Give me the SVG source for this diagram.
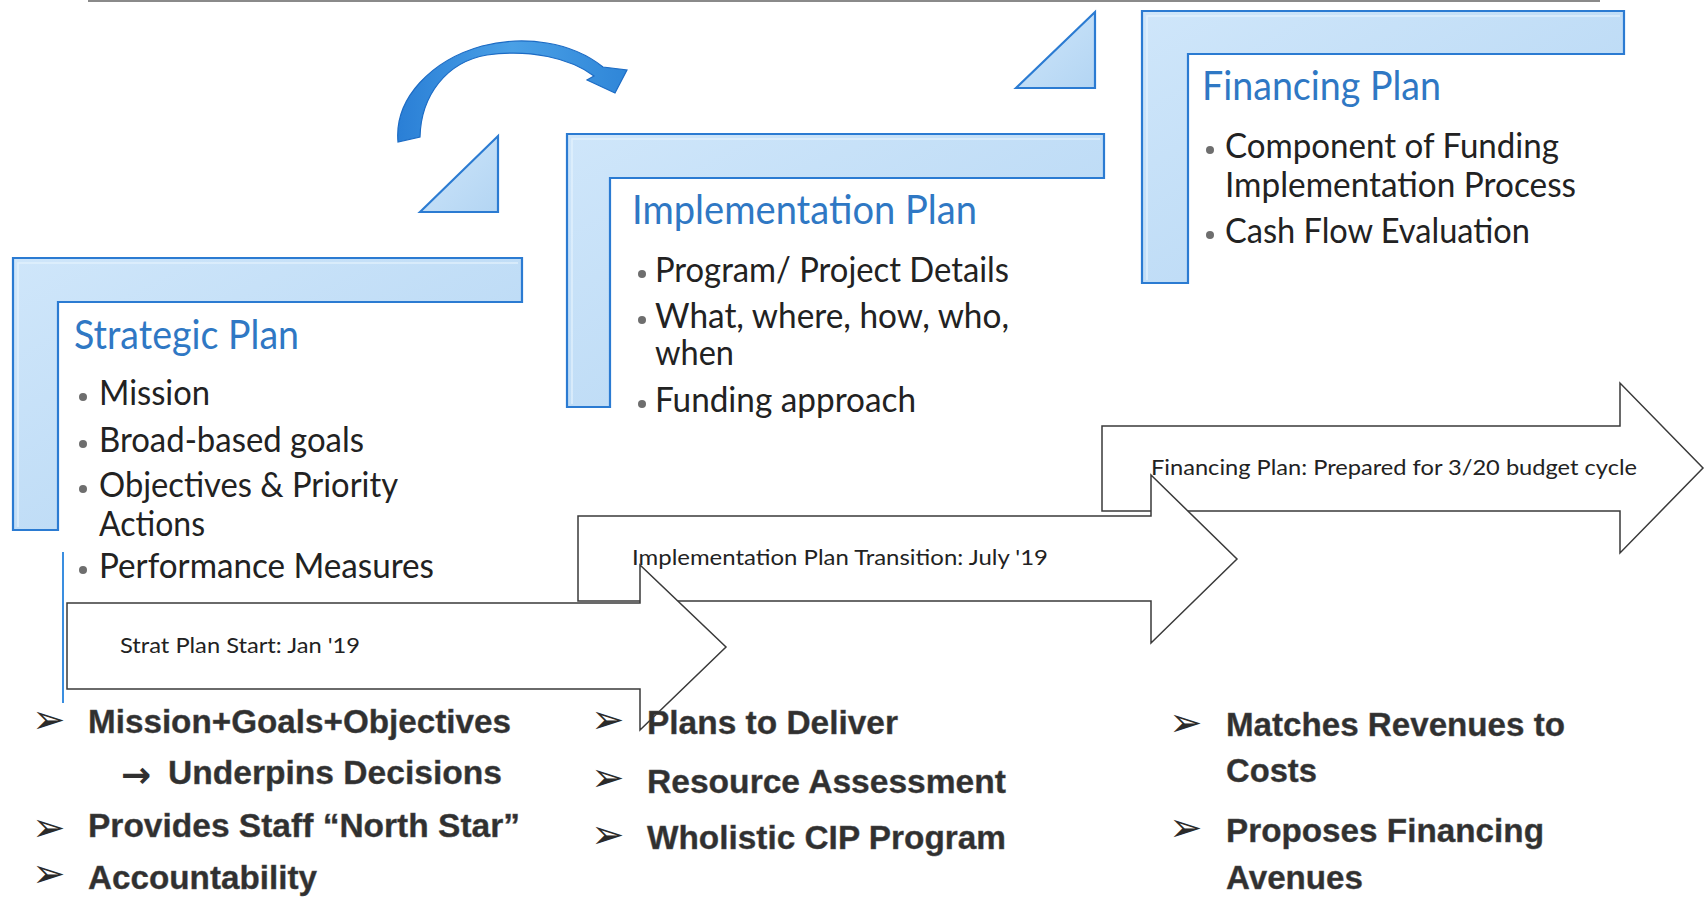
<svg xmlns="http://www.w3.org/2000/svg" width="1705" height="898" viewBox="0 0 1705 898">
<defs>
<linearGradient id="lfill" x1="0" y1="0" x2="1" y2="1">
<stop offset="0" stop-color="#cfe6fa"/>
<stop offset="1" stop-color="#b3d5f3"/>
</linearGradient>
<linearGradient id="cfill" x1="0" y1="0" x2="1" y2="0">
<stop offset="0" stop-color="#2a7fd6"/>
<stop offset="0.5" stop-color="#4aa0e6"/>
<stop offset="1" stop-color="#2f86d8"/>
</linearGradient>
<style>
.lshape{fill:url(#lfill);stroke:#2b7bd2;stroke-width:2.2;stroke-linejoin:miter}
.bevel{fill:none;stroke:#e6f2fc;stroke-width:1.5;opacity:0.8}
.tri{fill:url(#lfill);stroke:#2b7bd2;stroke-width:2.2}
.blk{fill:#ffffff;stroke:#3a3a3a;stroke-width:1.5;stroke-linejoin:miter}
.title{font-family:Lato,"Open Sans",sans-serif;font-size:40px;fill:#2f78c4}
.bul{font-family:Lato,"Open Sans",sans-serif;font-size:34px;fill:#222222}
.dot{fill:#6e6e6e}
.lab{font-family:Lato,"Open Sans",sans-serif;font-size:21px;fill:#222222}
.big{font-family:"Liberation Sans",Arial,sans-serif;font-weight:bold;font-size:33px;fill:#303030;stroke:#555;stroke-width:0.4}
.chev{font-family:"DejaVu Sans",sans-serif;font-size:40px;fill:#2a2a2a}
.arr{font-family:"DejaVu Sans",sans-serif;font-weight:bold;font-size:36px;fill:#303030}
</style>
</defs>
<rect width="1705" height="898" fill="#ffffff"/>
<line x1="88" y1="1" x2="1600" y2="1" stroke="#8a8a8a" stroke-width="2"/>

<g id="connectors">
<path d="M398,142 C394,98 432,60 482,46 C525,35 572,42 603,67 L627,70 L615,93 L587,80 L594,76 C570,58 530,49 487,55 C446,62 421,96 420,137 Z" fill="url(#cfill)" stroke="#1c6bc4" stroke-width="1.2"/>
</g>

<g id="triangle-1"><polygon class="tri" points="420,212 498,136 498,212"/></g>
<g id="triangle-2"><polygon class="tri" points="1016,88 1095,12 1095,88"/></g>

<g id="strategic-plan">
<path class="lshape" d="M13,258 L522,258 L522,302 L58,302 L58,530 L13,530 Z"/>
<path class="bevel" d="M18,527 L18,263 L518,263"/>
<text class="title" x="74" y="349" textLength="225" lengthAdjust="spacingAndGlyphs">Strategic Plan</text>
<circle class="dot" cx="83" cy="397" r="4"/>
<text class="bul" x="99" y="405" textLength="111" lengthAdjust="spacingAndGlyphs">Mission</text>
<circle class="dot" cx="83" cy="444" r="4"/>
<text class="bul" x="99" y="452" textLength="265" lengthAdjust="spacingAndGlyphs">Broad-based goals</text>
<circle class="dot" cx="83" cy="489" r="4"/>
<text class="bul" x="99" y="497" textLength="299" lengthAdjust="spacingAndGlyphs">Objectives &amp; Priority</text>
<text class="bul" x="99" y="536" textLength="106" lengthAdjust="spacingAndGlyphs">Actions</text>
<circle class="dot" cx="83" cy="570" r="4"/>
<text class="bul" x="99" y="578" textLength="335" lengthAdjust="spacingAndGlyphs">Performance Measures</text>
</g>

<g id="implementation-plan">
<path class="lshape" d="M567,134 L1104,134 L1104,178 L610,178 L610,407 L567,407 Z"/>
<path class="bevel" d="M572,404 L572,139 L1100,139"/>
<text class="title" x="632" y="224" textLength="345" lengthAdjust="spacingAndGlyphs">Implementation Plan</text>
<circle class="dot" cx="642" cy="274" r="4"/>
<text class="bul" x="655" y="282" textLength="354" lengthAdjust="spacingAndGlyphs">Program/ Project Details</text>
<circle class="dot" cx="642" cy="320" r="4"/>
<text class="bul" x="655" y="328" textLength="354" lengthAdjust="spacingAndGlyphs">What, where, how, who,</text>
<text class="bul" x="655" y="365" textLength="79" lengthAdjust="spacingAndGlyphs">when</text>
<circle class="dot" cx="642" cy="404" r="4"/>
<text class="bul" x="655" y="412" textLength="261" lengthAdjust="spacingAndGlyphs">Funding approach</text>
</g>

<g id="financing-plan">
<path class="lshape" d="M1142,11 L1624,11 L1624,54 L1188,54 L1188,283 L1142,283 Z"/>
<path class="bevel" d="M1147,280 L1147,16 L1620,16"/>
<text class="title" x="1202" y="100" textLength="239" lengthAdjust="spacingAndGlyphs">Financing Plan</text>
<circle class="dot" cx="1210" cy="150" r="4"/>
<text class="bul" x="1225" y="158" textLength="334" lengthAdjust="spacingAndGlyphs">Component of Funding</text>
<text class="bul" x="1225" y="197" textLength="351" lengthAdjust="spacingAndGlyphs">Implementation Process</text>
<circle class="dot" cx="1210" cy="235" r="4"/>
<text class="bul" x="1225" y="243" textLength="305" lengthAdjust="spacingAndGlyphs">Cash Flow Evaluation</text>
</g>

<line x1="63" y1="552" x2="63" y2="703" stroke="#3a8ee0" stroke-width="2"/>

<g id="timeline-financing">
<path class="blk" d="M1102,426 L1620,426 L1620,383 L1703,468 L1620,553 L1620,511 L1102,511 Z"/>
<text class="lab" x="1151" y="475" textLength="486" lengthAdjust="spacingAndGlyphs">Financing Plan: Prepared for 3/20 budget cycle</text>
</g>
<g id="timeline-implementation">
<path class="blk" d="M578,516 L1151,516 L1151,475 L1237,559 L1151,643 L1151,601 L578,601 Z"/>
<text class="lab" x="632" y="565" textLength="416" lengthAdjust="spacingAndGlyphs">Implementation Plan Transition: July '19</text>
</g>
<g id="timeline-strategic">
<path class="blk" d="M67,603 L640,603 L640,565 L726,647 L640,730 L640,689 L67,689 Z"/>
<text class="lab" x="120" y="653" textLength="240" lengthAdjust="spacingAndGlyphs">Strat Plan Start: Jan '19</text>
</g>

<g id="strategic-outcomes">
<text class="chev" x="32" y="733">➢</text>
<text class="big" x="88" y="733" textLength="423" lengthAdjust="spacingAndGlyphs">Mission+Goals+Objectives</text>
<text class="arr" x="121" y="787">→</text>
<text class="big" x="168" y="784" textLength="334" lengthAdjust="spacingAndGlyphs">Underpins Decisions</text>
<text class="chev" x="32" y="841">➢</text>
<text class="big" x="88" y="837" textLength="432" lengthAdjust="spacingAndGlyphs">Provides Staff “North Star”</text>
<text class="chev" x="32" y="887">➢</text>
<text class="big" x="88" y="889" textLength="229" lengthAdjust="spacingAndGlyphs">Accountability</text>
</g>

<g id="implementation-outcomes">
<text class="chev" x="591" y="733">➢</text>
<text class="big" x="647" y="734" textLength="251" lengthAdjust="spacingAndGlyphs">Plans to Deliver</text>
<text class="chev" x="591" y="791">➢</text>
<text class="big" x="647" y="793" textLength="359" lengthAdjust="spacingAndGlyphs">Resource Assessment</text>
<text class="chev" x="591" y="848">➢</text>
<text class="big" x="647" y="849" textLength="359" lengthAdjust="spacingAndGlyphs">Wholistic CIP Program</text>
</g>

<g id="financing-outcomes">
<text class="chev" x="1169" y="736">➢</text>
<text class="big" x="1226" y="736" textLength="339" lengthAdjust="spacingAndGlyphs">Matches Revenues to</text>
<text class="big" x="1226" y="782" textLength="91" lengthAdjust="spacingAndGlyphs">Costs</text>
<text class="chev" x="1169" y="841">➢</text>
<text class="big" x="1226" y="842" textLength="318" lengthAdjust="spacingAndGlyphs">Proposes Financing</text>
<text class="big" x="1226" y="889" textLength="137" lengthAdjust="spacingAndGlyphs">Avenues</text>
</g>
</svg>
